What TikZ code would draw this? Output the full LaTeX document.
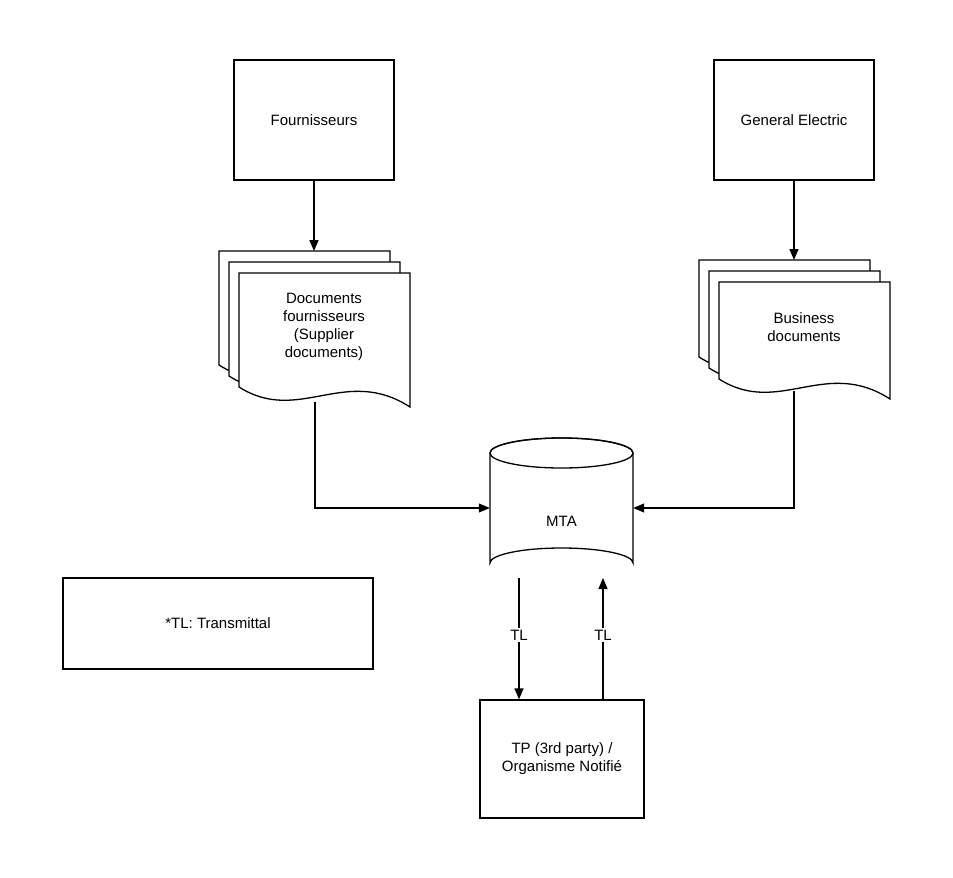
\documentclass[tikz,border=0pt]{standalone}
\usepackage{fontspec}
\setmainfont{Liberation Sans}
\usetikzlibrary{arrows.meta}
\newcommand\docsheet[4]{%
  \draw[line width=1.3pt,fill=white] (#1,#2) -- (#1+#3,#2) -- (#1+#3,#2+#4)
    .. controls (#1+0.62*#3,#2+#4-42) and (#1+0.35*#3,#2+#4+18) .. (#1,#2+#4-20) -- cycle;}
\begin{document}
\begin{tikzpicture}[x=1pt,y=-1pt,
  box/.style={draw,line width=1.3pt,minimum width=#1,inner sep=0pt,align=center,font=\fontsize{15}{18}\selectfont},
  txt/.style={align=center,font=\fontsize{15}{18}\selectfont},
  arr/.style={line width=1.3pt,-{Triangle[length=11pt,width=9pt]}},
  ln/.style={line width=1.3pt}]
\useasboundingbox (0,0) rectangle (953,878);
\node[box=160pt,minimum height=120pt] (f) at (314,120) {Fournisseurs};
\node[box=160pt,minimum height=120pt] (g) at (794,120) {General Electric};
\node[box=310pt,minimum height=91pt] (tl) at (218,623.5) {*TL: Transmittal};
\node[box=164pt,minimum height=118pt] (tp) at (562,759) {TP (3rd party) /\\Organisme Notifié};
% left stack
\docsheet{219}{251}{171}{134}
\docsheet{229}{262}{171}{134}
\docsheet{239}{273}{171}{134}
\coordinate (ltop) at (314,251);
\coordinate (lbot) at (315,402);
\node[txt] (ld) at (324,327) {Documents\\fournisseurs\\(Supplier\\documents)};
% right stack
\docsheet{699}{260}{171}{117}
\docsheet{709}{271}{171}{117}
\docsheet{719}{282}{171}{117}
\coordinate (rtop) at (794,260);
\coordinate (rbot) at (794,391);
\node[txt] (rd) at (804,327) {Business\\documents};
% cylinder
\draw[ln,fill=white] (490,453) -- (490,563) arc[start angle=180,end angle=360,x radius=71.5,y radius=15] -- (633,453) arc[start angle=0,end angle=-180,x radius=71.5,y radius=15];
\draw[ln] (561.5,453) ellipse[x radius=71.5,y radius=15];
\node[txt,minimum width=143pt,minimum height=140pt] (mta) at (561.5,508) {};
\node[txt] at (561.5,521) {MTA};
\draw[arr] (f.south) -- (ltop);
\draw[arr] (g.south) -- (rtop);
\draw[arr] (lbot) |- (mta.west);
\draw[arr] (rbot) |- (mta.east);
\coordinate (m1) at (519,578); \coordinate (m2) at (603,578);
\draw[arr] (m1) -- node[fill=white,txt,inner sep=2pt,pos=0.47] {TL} (m1 |- tp.north);
\draw[arr] (m2 |- tp.north) -- node[fill=white,txt,inner sep=2pt,pos=0.53] {TL} (m2);
\end{tikzpicture}
\end{document}
